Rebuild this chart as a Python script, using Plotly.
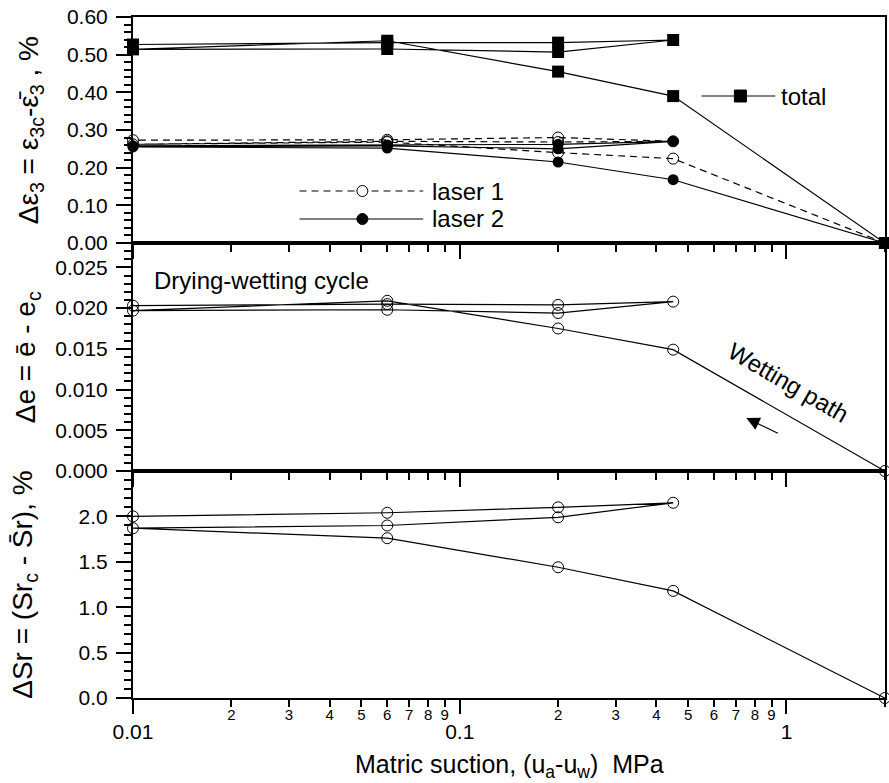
import math
import plotly.graph_objects as go

# ---------------- data ----------------
suction = [2, 0.45, 0.2, 0.06, 0.01, 0.06, 0.2, 0.45, 0.2, 0.06, 0.01]
strain_total = [0, 0.390, 0.455, 0.537, 0.514, 0.515, 0.507, 0.539, 0.532, 0.532, 0.527]
strain_laser1 = [0, 0.224, 0.240, 0.268, 0.262, 0.270, 0.268, 0.270, 0.280, 0.274, 0.273]
strain_laser2 = [0, 0.168, 0.215, 0.252, 0.255, 0.258, 0.250, 0.270, 0.262, 0.260, 0.258]
delta_e = [0, 0.0149, 0.0175, 0.0209, 0.0197, 0.0198, 0.0194, 0.0208, 0.0204, 0.0205, 0.0203]
delta_sr = [0, 1.18, 1.44, 1.76, 1.87, 1.90, 1.99, 2.15, 2.10, 2.04, 2.00]

x_major_ticks = [0.01, 0.1, 1]
x_major_labels = ["0.01", "0.1", "1"]
x_minor_ticks = [0.02, 0.03, 0.04, 0.05, 0.06, 0.07, 0.08, 0.09,
                 0.2, 0.3, 0.4, 0.5, 0.6, 0.7, 0.8, 0.9, 2]
x_minor_labels = ["2", "3", "4", "5", "6", "7", "8", "9",
                  "2", "3", "4", "5", "6", "7", "8", "9", "2"]

# ---------------- layout geometry ----------------
W, H = 889, 783
ML, MR, MT, MB = 133, 2, 17, 85
PW = W - ML - MR
PH = H - MT - MB
FONT = "Liberation Sans, Arial, sans-serif"


def px2x(px):
    return (px - ML) / PW


def px2y(py):
    return (H - MB - py) / PH


d1 = px2y(471)
d2 = px2y(243)
xrange_log = [-2, math.log10(2) + 0.0005]

fig = go.Figure()

common_line = dict(color="black", width=1.2)

fig.add_trace(go.Scatter(x=suction, y=strain_laser1, mode="lines+markers",
                         line=dict(color="black", width=1.2, dash="7px,5px"),
                         marker=dict(symbol="circle-open", size=11, color="black", line=dict(width=1)),
                         cliponaxis=False, xaxis="x", yaxis="y", showlegend=False))
fig.add_trace(go.Scatter(x=suction, y=strain_laser2, mode="lines+markers",
                         line=common_line,
                         marker=dict(symbol="circle", size=11, color="black"),
                         cliponaxis=False, xaxis="x", yaxis="y", showlegend=False))
fig.add_trace(go.Scatter(x=suction, y=strain_total, mode="lines+markers",
                         line=common_line,
                         marker=dict(symbol="square", size=12, color="black"),
                         cliponaxis=False, xaxis="x", yaxis="y", showlegend=False))
fig.add_trace(go.Scatter(x=suction, y=delta_e, mode="lines+markers",
                         line=common_line,
                         marker=dict(symbol="circle-open", size=11, color="black", line=dict(width=1)),
                         cliponaxis=False, xaxis="x2", yaxis="y2", showlegend=False))
fig.add_trace(go.Scatter(x=suction, y=delta_sr, mode="lines+markers",
                         line=common_line,
                         marker=dict(symbol="circle-open", size=11, color="black", line=dict(width=1)),
                         cliponaxis=False, xaxis="x3", yaxis="y3", showlegend=False))
# helper trace for the overlay axis with minor tick labels
fig.add_trace(go.Scatter(x=[], y=[], xaxis="x4", yaxis="y3", showlegend=False))

xbase = dict(type="log", range=xrange_log, showline=True, linewidth=2, linecolor="black",
             mirror=True, showgrid=False, zeroline=False,
             ticks="outside", tickmode="array", tickvals=x_major_ticks, ticklen=14,
             tickwidth=2, tickcolor="black")
minor_x = dict(tickmode="array", tickvals=x_minor_ticks, ticks="outside", ticklen=7,
               tickwidth=2, tickcolor="black", showgrid=False)

ybase = dict(showline=True, linewidth=2, linecolor="black", mirror=True, showgrid=False,
             zeroline=False, ticks="outside", ticklen=15, tickwidth=2, tickcolor="black",
             tickfont=dict(size=21, color="black", family=FONT), ticklabelstandoff=4)

fig.update_layout(
    width=W, height=H, margin=dict(l=ML, r=MR, t=MT, b=MB),
    paper_bgcolor="white", plot_bgcolor="white",
    font=dict(family=FONT, color="black"),
    xaxis=dict(xbase, anchor="y", showticklabels=False, minor=minor_x),
    xaxis2=dict(xbase, anchor="y2", showticklabels=False, minor=minor_x),
    xaxis3=dict(xbase, anchor="y3", ticktext=x_major_labels, showticklabels=True,
                tickfont=dict(size=21, color="black", family=FONT), minor=minor_x),
    xaxis4=dict(type="log", range=xrange_log, overlaying="x3", anchor="y3", side="bottom",
                showline=False, showgrid=False, zeroline=False, ticks="outside", ticklen=3,
                tickcolor="rgba(0,0,0,0)",
                tickmode="array", tickvals=x_minor_ticks, ticktext=x_minor_labels,
                tickfont=dict(size=15, color="black", family=FONT)),
    yaxis=dict(ybase, domain=[d2, 1], range=[0, 0.6], tickmode="array",
               tickvals=[0, 0.1, 0.2, 0.3, 0.4, 0.5, 0.6], tickformat=".2f",
               minor=dict(dtick=0.02, ticks="outside", ticklen=7, tickwidth=1.5, tickcolor="black")),
    yaxis2=dict(ybase, domain=[d1, d2], range=[0, 0.028], tickmode="array",
                tickvals=[0, 0.005, 0.01, 0.015, 0.02, 0.025], tickformat=".3f",
                minor=dict(dtick=0.001, ticks="outside", ticklen=7, tickwidth=1.5, tickcolor="black")),
    yaxis3=dict(ybase, domain=[0, d1], range=[0, 2.5], tickmode="array",
                tickvals=[0, 0.5, 1.0, 1.5, 2.0], tickformat=".1f",
                minor=dict(dtick=0.1, ticks="outside", ticklen=7, tickwidth=1.5, tickcolor="black")),
)

ann = []
TF = 28
ann.append(dict(text="Δε<sub>3</sub> = ε<sub>3c</sub>-ε\u0304<sub>3</sub> , %", xref="paper", yref="paper",
                x=px2x(31), y=(d2 + 1) / 2, textangle=-90, showarrow=False,
                xanchor="center", yanchor="middle", font=dict(size=TF)))
ann.append(dict(text="Δe = ē - e<sub>c</sub>", xref="paper", yref="paper",
                x=px2x(27), y=(d1 + d2) / 2, textangle=-90, showarrow=False,
                xanchor="center", yanchor="middle", font=dict(size=TF)))
ann.append(dict(text="ΔSr = (Sr<sub>c</sub> - S\u0304r), %", xref="paper", yref="paper",
                x=px2x(24), y=d1 / 2, textangle=-90, showarrow=False,
                xanchor="center", yanchor="middle", font=dict(size=TF)))
ann.append(dict(text="Matric suction, (u<sub>a</sub>-u<sub>w</sub>)  MPa", xref="paper", yref="paper",
                x=px2x(510), y=px2y(766), showarrow=False, xanchor="center", yanchor="middle",
                font=dict(size=25)))
ann.append(dict(text="Drying-wetting cycle", xref="paper", yref="paper",
                x=px2x(152), y=px2y(280), showarrow=False, xanchor="left", yanchor="middle",
                font=dict(size=24)))
ann.append(dict(text="Wetting path", xref="paper", yref="paper",
                x=px2x(790), y=px2y(383), showarrow=False, xanchor="center", yanchor="middle",
                textangle=30, font=dict(size=24)))
ann.append(dict(text="", xref="paper", yref="paper", x=px2x(748), y=px2y(418),
                ax=33, ay=16, showarrow=True, arrowhead=2, arrowsize=2.2, arrowwidth=1.2,
                arrowcolor="black"))
# legend texts
for label, lx, ly in [("laser 1", 431, 191), ("laser 2", 431, 219), ("total", 781, 96)]:
    ann.append(dict(text=label, xref="paper", yref="paper", x=px2x(lx), y=px2y(ly),
                    showarrow=False, xanchor="left", yanchor="middle", font=dict(size=24)))
fig.update_layout(annotations=ann)

# legend keys (shapes in paper coordinates)
shapes = []


def hline(x0, x1, y, dash="solid"):
    return dict(type="line", xref="paper", yref="paper", x0=px2x(x0), x1=px2x(x1),
                y0=px2y(y), y1=px2y(y), line=dict(color="black", width=1.2, dash=dash))


def circ(cx, cy, r, fill):
    return dict(type="circle", xref="paper", yref="paper", x0=px2x(cx - r), x1=px2x(cx + r),
                y0=px2y(cy + r), y1=px2y(cy - r), fillcolor=fill, line=dict(color="black", width=1))


def sq(cx, cy, h):
    return dict(type="rect", xref="paper", yref="paper", x0=px2x(cx - h), x1=px2x(cx + h),
                y0=px2y(cy + h), y1=px2y(cy - h), fillcolor="black", line=dict(color="black", width=1))


shapes.append(hline(300, 424, 191, dash="7px,5px"))
shapes.append(circ(363, 191, 5.5, "white"))
shapes.append(hline(300, 424, 219))
shapes.append(circ(363, 219, 5.5, "black"))
shapes.append(hline(703, 777, 96))
shapes.append(sq(742, 96, 6))
fig.update_layout(shapes=shapes)

fig.write_html("out.html")
